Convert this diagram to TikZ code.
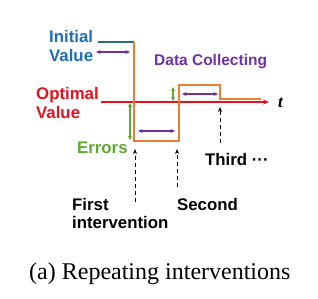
\documentclass[tikz,border=0pt]{standalone}
\usepackage{fontspec}
\setmainfont{Liberation Serif}
\newfontfamily\lab{Liberation Sans}
\usetikzlibrary{arrows.meta}
\definecolor{cblue}{HTML}{1F70B8}
\definecolor{cteal}{HTML}{2B6A7E}
\definecolor{corange}{HTML}{ED7D31}
\definecolor{cred}{HTML}{E8101E}
\definecolor{cgreen}{HTML}{5DA832}
\definecolor{cpurple}{HTML}{7030A0}
\tikzset{
  lbl/.style={inner sep=0pt,anchor=base west,font=\lab\bfseries\fontsize{16.8}{19}\selectfont},
  span/.style={cpurple,line width=1.4pt,{Stealth[length=4.5pt,width=4pt]}-{Stealth[length=4.5pt,width=4pt]}},
  err/.style={cgreen,line width=1.4pt,{Stealth[length=4pt,width=4pt]}-{Stealth[length=4pt,width=4pt]}},
  trig/.style={black,line width=1pt,dash pattern=on 4pt off 3pt,-{Stealth[length=5pt,width=4pt]}},
}
\begin{document}
\begin{tikzpicture}[x=1pt,y=-1pt]
\useasboundingbox (0,0) rectangle (318,298);
% coordinates
\coordinate (i0) at (98,42);
\coordinate (o1) at (134,42);
\coordinate (o2) at (134,141);
\coordinate (o3) at (179,141);
\coordinate (o4) at (179,85);
\coordinate (o5) at (220,85);
\coordinate (o6) at (220,99);
\coordinate (o7) at (261,99);
\coordinate (r0) at (101,102);
\coordinate (r1) at (269,102);
% lines
\draw[cteal,line width=1.8pt] (i0) -- (o1);
\draw[cred,line width=1.4pt,-{Stealth[length=6pt,width=5pt]}] (r0) -- (r1);
\draw[corange,line width=1.8pt,line join=miter] (o1) -- (o2) -- (o3) -- (o4) -- (o5) -- (o6) -- (o7);
% spans
\coordinate (p1a) at (96,52); \coordinate (p1b) at (130,52);
\coordinate (p2a) at (138,131); \coordinate (p2b) at (175,131);
\coordinate (p3a) at (182,94); \coordinate (p3b) at (218,94);
\draw[span] (p1a) -- (p1b);
\draw[span] (p2a) -- (p2b);
\draw[span] (p3a) -- (p3b);
\coordinate (g1a) at (130,103); \coordinate (g1b) at (130,140);
\coordinate (g2a) at (173,87); \coordinate (g2b) at (173,101);
\draw[err] (g1a) -- (g1b);
\draw[err] (g2a) -- (g2b);
% triggers
\coordinate (d1a) at (135,202); \coordinate (d1b) at (135,149);
\coordinate (d2a) at (177,187); \coordinate (d2b) at (177,149);
\coordinate (d3a) at (220,143); \coordinate (d3b) at (220,107);
\draw[trig] (d1a) -- (d1b);
\draw[trig] (d2a) -- (d2b);
\draw[trig] (d3a) -- (d3b);
% labels
\node[lbl,cblue] (init1) at (49,42) {Initial};
\node[lbl,cblue] (init2) at (49,61) {Value};
\node[lbl,cpurple,font=\lab\bfseries\fontsize{15.5}{18}\selectfont] (dc) at (154,65) {Data Collecting};
\node[lbl,cred] (opt1) at (36,99) {Optimal};
\node[lbl,cred] (opt2) at (36,118) {Value};
\node[lbl,cgreen] (errs) at (77,153) {Errors};
\node[lbl] (first1) at (72,210) {First};
\node[lbl] (first2) at (72,228) {intervention};
\node[lbl] (second) at (177,210) {Second};
\node[lbl] (third) at (205,165) {Third ···};
\node[inner sep=0pt,anchor=base west,font=\bfseries\itshape\fontsize{17}{20}\selectfont] (t) at (278,107) {t};
\node[inner sep=0pt,anchor=base west,font=\fontsize{24}{28}\selectfont] (cap) at (29,279) {(a) Repeating interventions};
\end{tikzpicture}
\end{document}
